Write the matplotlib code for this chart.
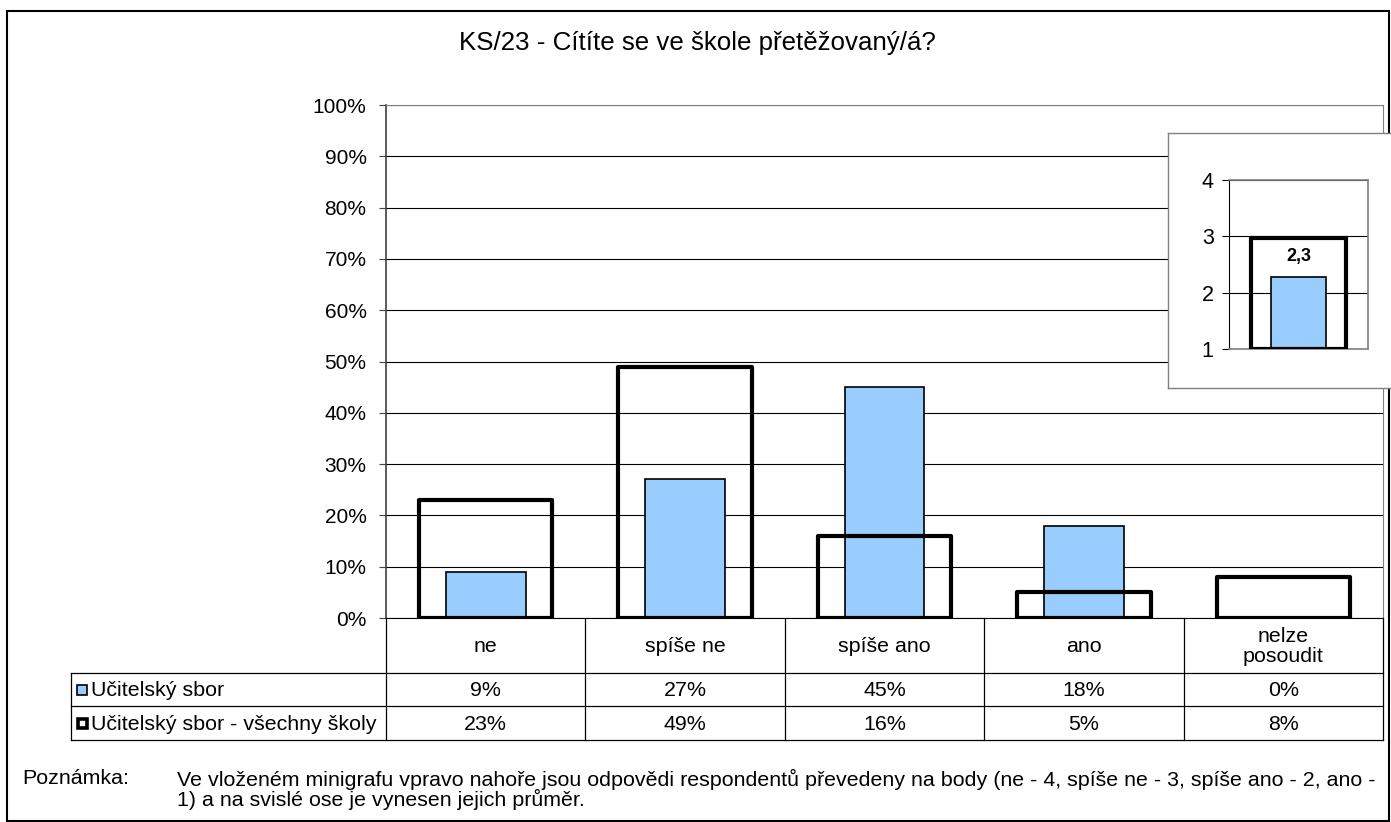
import matplotlib
matplotlib.use("Agg")
import matplotlib.pyplot as plt
from matplotlib.patches import Rectangle
import numpy as np

plt.rcParams['font.family'] = ['Liberation Sans', 'DejaVu Sans']

# ---- data ----
categories = ["ne", "spíše ne", "spíše ano", "ano", "nelze\nposoudit"]
school = [9, 27, 45, 18, 0]
all_schools = [23, 49, 16, 5, 8]
series_names = ["Učitelský sbor", "Učitelský sbor - všechny školy"]
mean_school = 2.27
mean_all = 2.97
mean_label = "2,3"
title = "KS/23 - Cítíte se ve škole přetěžovaný/á?"
note_head = "Poznámka:"
note_text = ("Ve vloženém minigrafu vpravo nahoře jsou odpovědi respondentů převedeny na body (ne - 4, spíše ne - 3, spíše ano - 2, ano -\n"
             "1) a na svislé ose je vynesen jejich průměr.")

W, H = 1391, 822
BLUE = "#99CCFF"
FS = 15.4

fig = plt.figure(figsize=(W / 100, H / 100), dpi=100)

def rect(x0, y0, x1, y1):
    return [x0 / W, 1 - y1 / H, (x1 - x0) / W, (y1 - y0) / H]

# overlay axes in pixel coordinates
ov = fig.add_axes([0, 0, 1, 1], zorder=0)
ov.set_xlim(0, W)
ov.set_ylim(H, 0)
ov.axis("off")
ov.add_patch(Rectangle((7, 11), 1382, 810, fill=False, ec="black", lw=1.5))
ov.text(697, 43, title, ha="center", va="center", fontsize=18.6)

# ---- main axes ----
X0, X1, Y0, Y1 = 386, 1383, 105, 618
ax = fig.add_axes(rect(X0, Y0, X1, Y1), zorder=1)
x = np.arange(len(categories))
ax.bar(x, school, width=0.40, color=BLUE, edgecolor="black", linewidth=1.2, zorder=3)
ax.bar(x, all_schools, width=0.67, facecolor="none", edgecolor="black", linewidth=3.0,
       zorder=4, joinstyle="round")
ax.set_xlim(-0.5, len(categories) - 0.5)
ax.set_ylim(0, 100)
ax.set_yticks(np.arange(0, 101, 10))
ax.set_yticklabels([f"{v}%" for v in range(0, 101, 10)], fontsize=15)
ax.set_xticks([])
ax.yaxis.grid(True, color="black", linewidth=0.8)
ax.set_axisbelow(True)
ax.tick_params(axis="y", length=5, width=0.8, pad=9, color="#444444")
for s in ["top", "right"]:
    ax.spines[s].set_color("#808080")
ax.spines["left"].set_color("#404040")
ax.spines["left"].set_linewidth(1.2)
ax.spines["bottom"].set_color("black")

# ---- data table ----
col_edges = np.linspace(X0, X1, len(categories) + 1)
TL = 71
R0, R1, R2, R3 = 618, 673, 706, 740
lc = "black"
for cx in col_edges:
    ov.plot([cx, cx], [R0, R3], color=lc, lw=0.9)
ov.plot([TL, TL], [R1, R3], color=lc, lw=0.9)
for ry in [R1, R2, R3]:
    ov.plot([TL, X1], [ry, ry], color=lc, lw=0.9)
centers = (col_edges[:-1] + col_edges[1:]) / 2
for cx, cat in zip(centers, categories):
    ov.text(cx, (R0 + R1) / 2 + 1, cat, ha="center", va="center", fontsize=FS, linespacing=1.1)
for cx, v in zip(centers, school):
    ov.text(cx, (R1 + R2) / 2 + 1, f"{v}%", ha="center", va="center", fontsize=FS)
for cx, v in zip(centers, all_schools):
    ov.text(cx, (R2 + R3) / 2 + 1, f"{v}%", ha="center", va="center", fontsize=FS)
# legend keys
ov.add_patch(Rectangle((77, (R1 + R2) / 2 - 5), 10, 10, fc=BLUE, ec="black", lw=1.2, zorder=5))
ov.add_patch(Rectangle((78, (R2 + R3) / 2 - 4.5), 9, 9, fc="white", ec="black", lw=2.6, zorder=5))
ov.text(91, (R1 + R2) / 2 + 1, series_names[0], ha="left", va="center", fontsize=FS)
ov.text(91, (R2 + R3) / 2 + 1, series_names[1], ha="left", va="center", fontsize=FS)

# ---- note ----
ov.text(22, 778, note_head, ha="left", va="center", fontsize=FS)
ov.text(177, 769, note_text, ha="left", va="top", fontsize=FS, linespacing=0.92)

# ---- inset ----
box = fig.add_axes(rect(1168, 133, 1398, 388), zorder=5)
box.set_xticks([]); box.set_yticks([])
box.set_facecolor("white")
for s in box.spines.values():
    s.set_color("#808080")
    s.set_linewidth(1.0)

ins = fig.add_axes(rect(1229, 180, 1368, 349), zorder=6)
ins.bar([0], [mean_school - 1], bottom=1, width=0.40, color=BLUE, edgecolor="black", linewidth=1.2, zorder=3)
ins.bar([0], [mean_all - 1], bottom=1, width=0.68, facecolor="none", edgecolor="black", linewidth=3.0, zorder=4)
ins.text(0, 2.65, mean_label, ha="center", va="center", fontsize=13, fontweight="bold", zorder=5)
ins.set_xlim(-0.5, 0.5)
ins.set_ylim(1, 4)
ins.set_yticks([1, 2, 3, 4])
ins.set_yticklabels(["1", "2", "3", "4"], fontsize=15.5)
ins.set_xticks([])
ins.yaxis.grid(True, color="black", linewidth=0.8)
ins.set_axisbelow(True)
ins.tick_params(axis="y", length=5, width=0.8, pad=6)
for s in ["top", "right", "bottom"]:
    ins.spines[s].set_color("#808080")
    ins.spines[s].set_linewidth(1.2)
ins.spines["left"].set_color("black")

fig.savefig("out.png", dpi=100)
